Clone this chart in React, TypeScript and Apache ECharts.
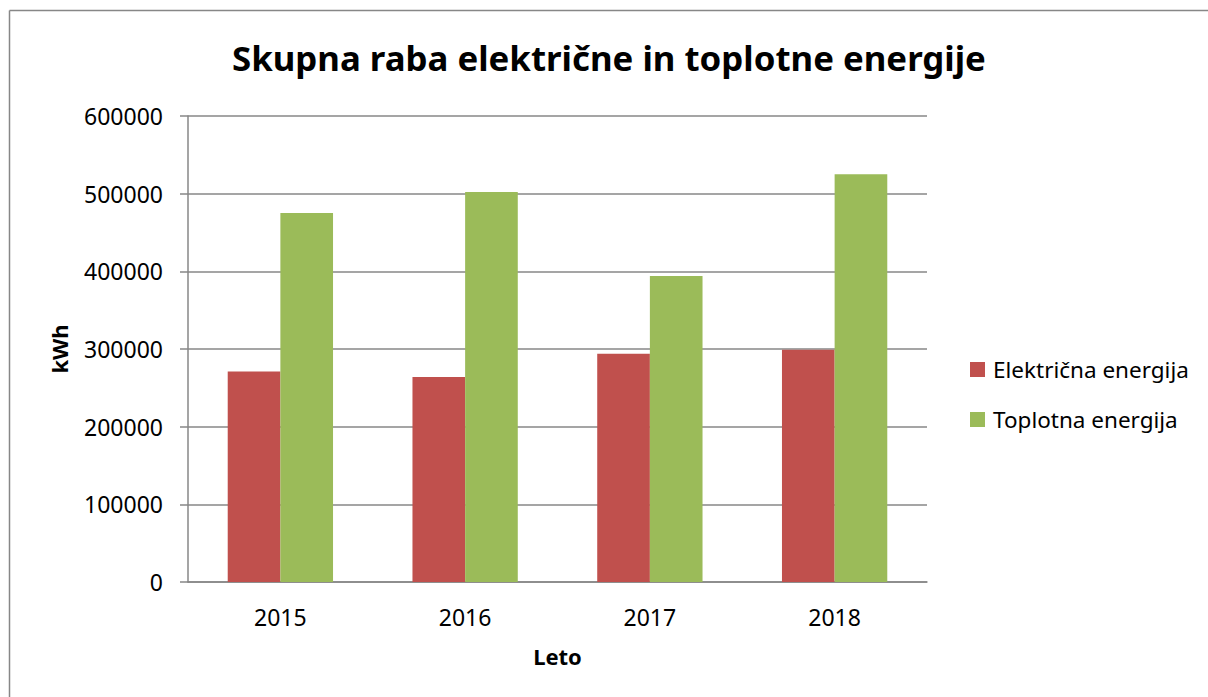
import React, { useEffect, useRef } from "react";
import * as echarts from "echarts";

const title = "Skupna raba električne in toplotne energije";
const categories = ["2015", "2016", "2017", "2018"];
const seriesNames = ["Električna energija", "Toplotna energija"];
const elektricna = [271000, 264000, 294000, 299000];
const toplotna = [475000, 502000, 394000, 525000];
const yTicks = { min: 0, max: 600000, interval: 100000 };
const xName = "Leto";
const yName = "kWh";

const FONT = "Noto Sans";
const GRAY = "#878787";

export default function App() {
  const ref = useRef<HTMLDivElement>(null);
  useEffect(() => {
    if (!ref.current) return;
    const chart = echarts.init(ref.current, null, { renderer: "svg" });
    chart.setOption({
      animation: false,
      backgroundColor: "#ffffff",
      textStyle: { fontFamily: FONT, color: "#000" },
      title: {
        text: title,
        left: 227,
        top: 35,
        textStyle: { fontFamily: FONT, fontSize: 34.8, fontWeight: "bold", color: "#000" },
      },
      graphic: [
        {
          type: "line",
          shape: { x1: 9.5, y1: 10.5, x2: 1208, y2: 10.5 },
          style: { stroke: GRAY, lineWidth: 1.5 },
          silent: true,
        },
        {
          type: "line",
          shape: { x1: 9.5, y1: 10.5, x2: 9.5, y2: 697 },
          style: { stroke: GRAY, lineWidth: 1.5 },
          silent: true,
        },
      ],
      legend: {
        orient: "vertical",
        left: 965,
        top: 353,
        itemWidth: 15,
        itemHeight: 15,
        itemGap: 27,
        icon: "rect",
        data: seriesNames,
        textStyle: { fontFamily: FONT, fontSize: 22.5, color: "#000", padding: [0, 0, 0, 3] },
      },
      grid: { left: 188, right: 281, top: 116, bottom: 115, containLabel: false },
      xAxis: {
        type: "category",
        data: categories,
        name: xName,
        nameLocation: "middle",
        nameGap: 63,
        nameTextStyle: { fontFamily: FONT, fontSize: 22, fontWeight: "bold", color: "#000" },
        axisLine: { show: true, lineStyle: { color: GRAY, width: 1.5 } },
        axisTick: { show: false },
        axisLabel: { fontFamily: FONT, fontSize: 23, color: "#000", margin: 23 },
        splitLine: { show: false },
      },
      yAxis: {
        type: "value",
        min: yTicks.min,
        max: yTicks.max,
        interval: yTicks.interval,
        name: yName,
        nameLocation: "middle",
        nameGap: 118,
        nameTextStyle: { fontFamily: FONT, fontSize: 22, fontWeight: "bold", color: "#000" },
        axisLine: { show: true, lineStyle: { color: GRAY, width: 1.5 } },
        axisTick: { show: true, length: 8, lineStyle: { color: GRAY, width: 1.5 } },
        axisLabel: {
          fontFamily: FONT,
          fontSize: 23,
          color: "#000",
          margin: 25,
          formatter: (v: number) => String(v),
        },
        splitLine: { show: true, lineStyle: { color: GRAY, width: 1.5 } },
      },
      series: [
        {
          name: seriesNames[0],
          type: "bar",
          data: elektricna,
          barGap: "0%",
          barCategoryGap: "43%",
          itemStyle: { color: "#C0504D" },
        },
        {
          name: seriesNames[1],
          type: "bar",
          data: toplotna,
          barGap: "0%",
          barCategoryGap: "43%",
          itemStyle: { color: "#9BBB59" },
        },
      ],
    });
    return () => chart.dispose();
  }, []);
  return (
    <div
      ref={ref}
      style={{ position: "fixed", left: 0, top: 0, width: 1208, height: 697, overflow: "hidden" }}
    />
  );
}
